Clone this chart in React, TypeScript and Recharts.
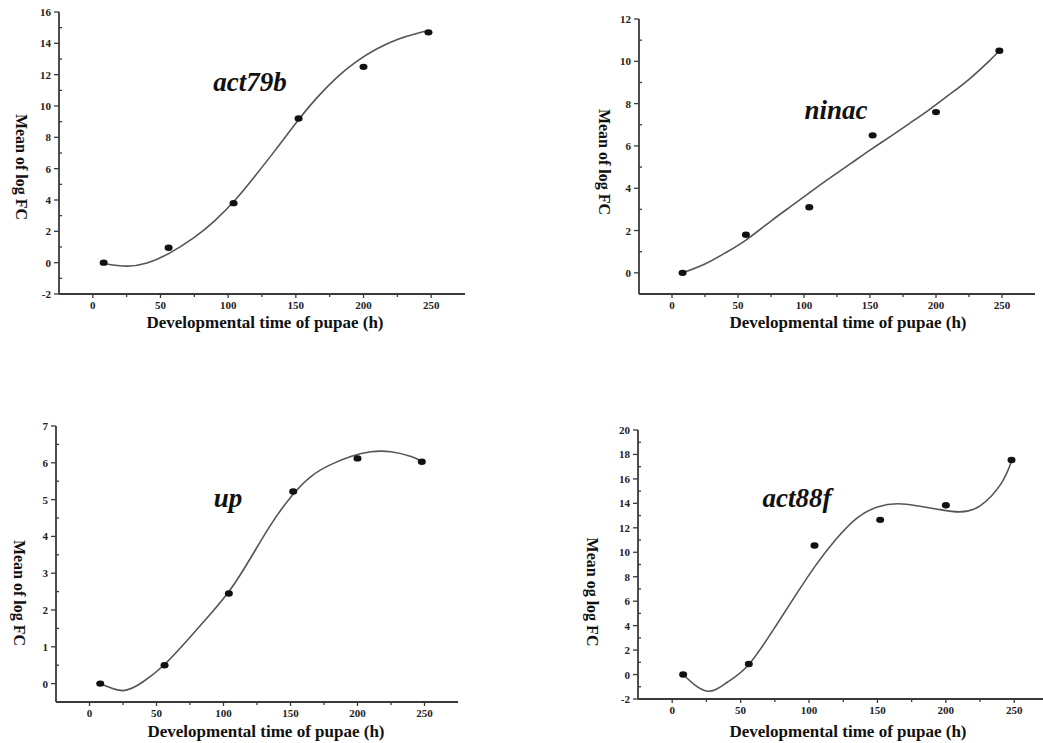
import React from 'react'
import { ComposedChart, Line, Scatter, XAxis, YAxis, Label } from 'recharts'

// sampling times (h) of the measured points and of the fitted curves
const hours = [8, 56, 104, 152, 200, 248]
const fitHours = [8, 25, 40, 56, 75, 90, 105, 120, 135, 150, 165, 180, 195, 210, 225, 240, 248]

const act79bMeans = [0, 0.95, 3.8, 9.2, 12.5, 14.7]
const act79bFit = [-0.05, -0.22, -0.02, 0.58, 1.62, 2.67, 3.98, 5.55, 7.2, 8.9, 10.47, 11.8, 12.85, 13.65, 14.25, 14.65, 14.8]

const ninacMeans = [0, 1.8, 3.1, 6.5, 7.6, 10.5]
const ninacFit = [0, 0.42, 0.93, 1.55, 2.45, 3.14, 3.83, 4.5, 5.15, 5.8, 6.43, 7.07, 7.72, 8.42, 9.15, 10.0, 10.5]

const upMeans = [0, 0.5, 2.45, 5.22, 6.12, 6.03]
const upFit = [0, -0.19, 0.05, 0.52, 1.26, 1.88, 2.55, 3.4, 4.3, 5.06, 5.62, 5.95, 6.17, 6.3, 6.3, 6.17, 6.04]

const act88fMeans = [0, 0.86, 10.55, 12.65, 13.85, 17.55]
const act88fFit = [0, -1.35, -0.65, 0.82, 3.85, 6.45, 8.95, 11.1, 12.8, 13.7, 13.97, 13.78, 13.5, 13.3, 13.8, 15.55, 17.45]

const xTicks = [0, 50, 100, 150, 200, 250]
const act79bTicks = [-2, 0, 2, 4, 6, 8, 10, 12, 14, 16]
const ninacTicks = [0, 2, 4, 6, 8, 10, 12]
const upTicks = [0, 1, 2, 3, 4, 5, 6, 7]
const act88fTicks = [-2, 0, 2, 4, 6, 8, 10, 12, 14, 16, 18, 20]

const AXIS = '#3a3a3a'
const FONT = '"Liberation Serif", "DejaVu Serif", serif'

const toPoints = (xs: number[], ys: number[]) => xs.map((x, i) => ({ x, y: ys[i] }))
const midpoints = (t: number[]) => t.slice(1).map((v, i) => (v + t[i]) / 2)

function makeYTick(majors: number[]) {
  return (props: any) => {
    const { x, y, payload } = props
    const major = majors.includes(payload.value)
    return (
      <g>
        <line x1={major ? x - 5 : x} x2={major ? x : x + 3} y1={y} y2={y} stroke={AXIS} strokeWidth={1.3} />
        {major && (
          <text x={x - 8} y={y} dy={4} textAnchor="end" fontSize={11} fontWeight="bold" fill="#222" fontFamily={FONT}>
            {payload.value}
          </text>
        )}
      </g>
    )
  }
}

function makeXTick(majors: number[]) {
  return (props: any) => {
    const { x, y, payload } = props
    const major = majors.includes(payload.value)
    return (
      <g>
        <line x1={x} x2={x} y1={y} y2={y + (major ? 4 : 3)} stroke={AXIS} strokeWidth={1.3} />
        {major && (
          <text x={x} y={y + 15} textAnchor="middle" fontSize={11} fontWeight="bold" fill="#222" fontFamily={FONT}>
            {payload.value}
          </text>
        )}
      </g>
    )
  }
}

interface PanelProps {
  left: number
  top: number
  width: number
  height: number
  margin: { top: number; right: number; left: number; bottom: number }
  yWidth: number
  xHeight: number
  xDomain: [number, number]
  yDomain: [number, number]
  yTicks: number[]
  means: number[]
  fit: number[]
  title: string
  titleX: number
  titleY: number
  yLabel: string
  yLabelPos: [number, number]
  xLabelPos: [number, number]
}

function Panel(p: PanelProps) {
  const points = toPoints(hours, p.means)
  const curve = toPoints(fitHours, p.fit)
  const yAll = [...p.yTicks, ...midpoints(p.yTicks)]
  const xAll = [...xTicks, ...midpoints(xTicks)]
  return (
    <div style={{ position: 'absolute', left: p.left, top: p.top, width: p.width, height: p.height }}>
      <ComposedChart width={p.width} height={p.height} margin={p.margin}>
        <XAxis
          type="number"
          dataKey="x"
          domain={p.xDomain}
          allowDataOverflow
          ticks={xAll}
          interval={0}
          tickSize={0}
          tickMargin={0}
          tickLine={false}
          tick={makeXTick(xTicks)}
          height={p.xHeight}
          axisLine={{ stroke: AXIS, strokeWidth: 1.8 }}
        >
          <Label
            content={() => (
              <text x={p.xLabelPos[0]} y={p.xLabelPos[1]} dy={6} textAnchor="middle" fontSize={17} fontWeight="bold" fill="#111" fontFamily={FONT}>
                Developmental time of pupae (h)
              </text>
            )}
          />
        </XAxis>
        <YAxis
          type="number"
          dataKey="y"
          domain={p.yDomain}
          allowDataOverflow
          ticks={yAll}
          interval={0}
          tickSize={0}
          tickMargin={0}
          tickLine={false}
          tick={makeYTick(p.yTicks)}
          width={p.yWidth}
          axisLine={{ stroke: AXIS, strokeWidth: 1.8 }}
        >
          <Label
            content={() => (
              <text
                x={p.yLabelPos[0]}
                y={p.yLabelPos[1]}
                dy={6}
                textAnchor="middle"
                fontSize={16}
                fontWeight="bold"
                fill="#111"
                fontFamily={FONT}
                transform={`rotate(90 ${p.yLabelPos[0]} ${p.yLabelPos[1]})`}
              >
                {p.yLabel}
              </text>
            )}
          />
        </YAxis>
        <Line data={curve} dataKey="y" type="natural" stroke="#555" strokeWidth={1.6} dot={false} isAnimationActive={false} />
        <Scatter
          data={points}
          dataKey="y"
          isAnimationActive={false}
          shape={(s: any) => <ellipse cx={s.cx} cy={s.cy} rx={4} ry={3.2} fill="#111" />}
        />
      </ComposedChart>
      <div
        style={{
          position: 'absolute',
          left: p.titleX - 100,
          top: p.titleY - 18,
          width: 200,
          textAlign: 'center',
          fontFamily: FONT,
          fontStyle: 'italic',
          fontWeight: 'bold',
          fontSize: 27,
          lineHeight: '36px',
          color: '#111',
        }}
      >
        {p.title}
      </div>
    </div>
  )
}

export default function App() {
  return (
    <div style={{ position: 'absolute', left: 0, top: 0, width: 1043, height: 743, background: '#fff', overflow: 'hidden' }}>
      <Panel
        left={0}
        top={0}
        width={480}
        height={340}
        margin={{ top: 12, right: 15, left: 0, bottom: 0 }}
        yWidth={59}
        xHeight={46}
        xDomain={[-25, 275]}
        yDomain={[-2, 16]}
        yTicks={act79bTicks}
        means={act79bMeans}
        fit={act79bFit}
        title="act79b"
        titleX={250}
        titleY={82}
        yLabel="Mean of log FC"
        yLabelPos={[22, 167]}
        xLabelPos={[265, 322]}
      />
      <Panel
        left={520}
        top={0}
        width={523}
        height={340}
        margin={{ top: 19, right: 8, left: 0, bottom: 0 }}
        yWidth={119}
        xHeight={46}
        xDomain={[-25, 275]}
        yDomain={[-1, 12]}
        yTicks={ninacTicks}
        means={ninacMeans}
        fit={ninacFit}
        title="ninac"
        titleX={316}
        titleY={110}
        yLabel="Mean of log FC"
        yLabelPos={[85, 162]}
        xLabelPos={[328, 322]}
      />
      <Panel
        left={0}
        top={370}
        width={480}
        height={373}
        margin={{ top: 56, right: 22, left: 0, bottom: 0 }}
        yWidth={56}
        xHeight={41}
        xDomain={[-25, 275]}
        yDomain={[-0.5, 7]}
        yTicks={upTicks}
        means={upMeans}
        fit={upFit}
        title="up"
        titleX={228}
        titleY={128}
        yLabel="Mean of log FC"
        yLabelPos={[20, 223]}
        xLabelPos={[266, 361]}
      />
      <Panel
        left={520}
        top={370}
        width={523}
        height={373}
        margin={{ top: 60, right: 0, left: 0, bottom: 0 }}
        yWidth={118}
        xHeight={44}
        xDomain={[-25, 271]}
        yDomain={[-2, 20]}
        yTicks={act88fTicks}
        means={act88fMeans}
        fit={act88fFit}
        title="act88f"
        titleX={277}
        titleY={128}
        yLabel="Mean og log FC"
        yLabelPos={[73, 222]}
        xLabelPos={[328, 361]}
      />
    </div>
  )
}
